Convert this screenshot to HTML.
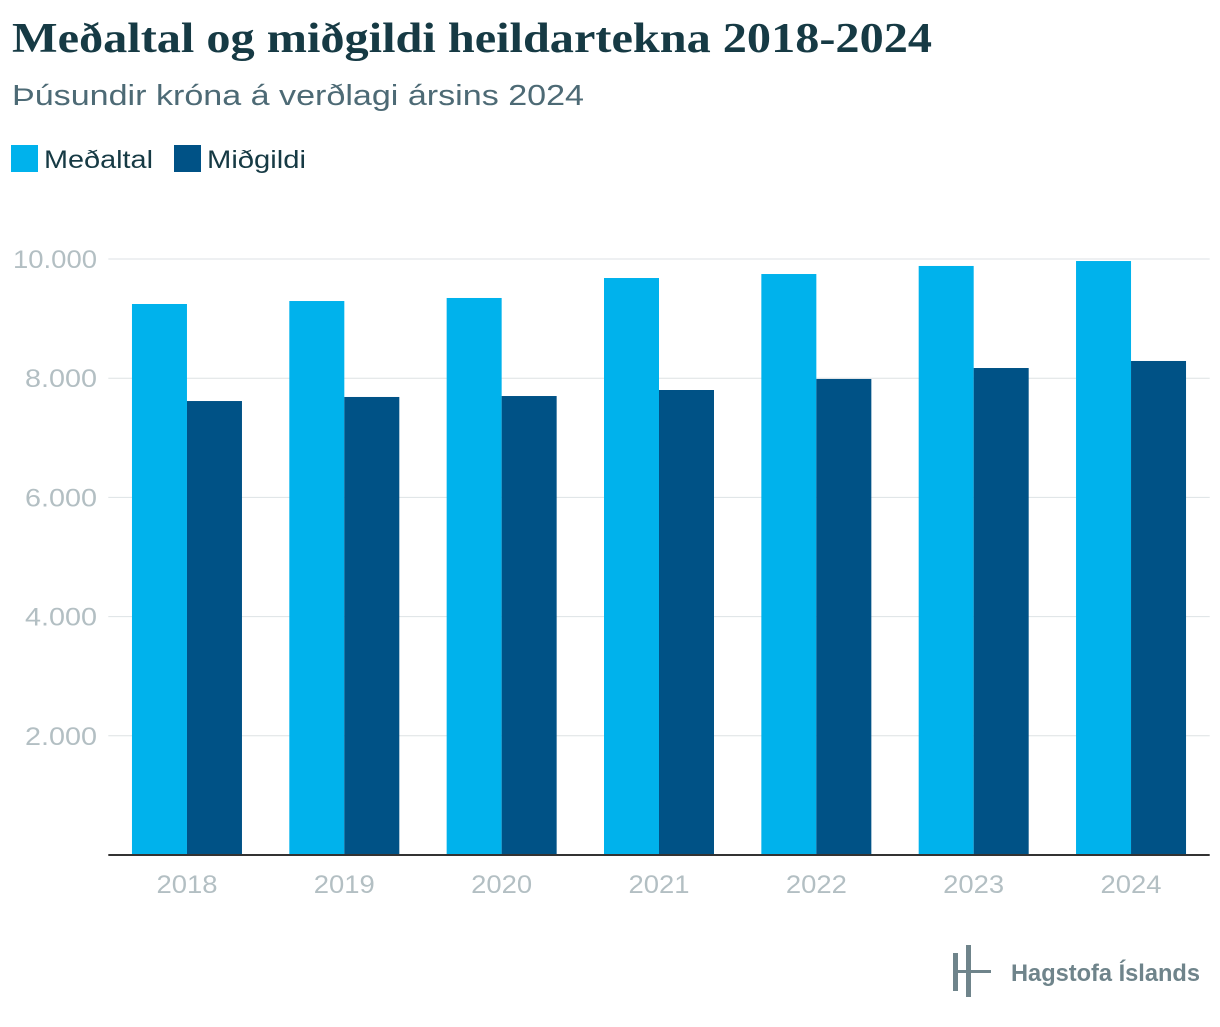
<!DOCTYPE html>
<html><head><meta charset="utf-8"><style>
body{margin:0;background:#fff;width:1220px;height:1022px;overflow:hidden;font-family:"Liberation Sans",sans-serif}
</style></head><body>
<svg width="1220" height="1022" xmlns="http://www.w3.org/2000/svg">
<text x="12" y="52" font-family="Liberation Serif,serif" font-size="42" font-weight="bold" fill="#163a44" textLength="920" lengthAdjust="spacingAndGlyphs">Meðaltal og miðgildi heildartekna 2018-2024</text>
<text x="12" y="105" font-size="29" fill="#4d6a75" textLength="572" lengthAdjust="spacingAndGlyphs">Þúsundir króna á verðlagi ársins 2024</text>
<g>
<rect x="11" y="145" width="27" height="27" fill="#00b2ec"/>
<text x="44" y="168" font-size="25" fill="#163a44" textLength="109" lengthAdjust="spacingAndGlyphs">Meðaltal</text>
<rect x="174" y="145" width="27" height="27" fill="#005286"/>
<text x="207" y="168" font-size="25" fill="#163a44" textLength="99" lengthAdjust="spacingAndGlyphs">Miðgildi</text>
</g>
<g id="grid"></g><g id="bars"></g><g id="axis"></g>
<g>
<rect x="953" y="953" width="5" height="38" fill="#6f848b"/>
<rect x="966" y="945" width="5" height="52" fill="#6f848b"/>
<rect x="953" y="970" width="38" height="3" fill="#6f848b"/>
<text x="1011" y="981" font-size="24" font-weight="bold" fill="#6f848b" textLength="189" lengthAdjust="spacingAndGlyphs">Hagstofa Íslands</text>
</g>
</svg>
<script>
const years=["2018","2019","2020","2021","2022","2023","2024"];
const medaltal=[9245,9295,9346,9681,9748,9883,9966];
const midgildi=[7617,7685,7701,7802,7987,8171,8289];
const yTicks=[2000,4000,6000,8000,10000];
const NS="http://www.w3.org/2000/svg";
const x0=108.3,x1=1209.7,y0=855,yTop=259,maxV=10000;
const band=(x1-x0)/years.length;
const y=v=>y0-(y0-yTop)*v/maxV;
function mk(t,a,p){const e=document.createElementNS(NS,t);for(const k in a)e.setAttribute(k,a[k]);p.appendChild(e);return e;}
const grid=document.getElementById('grid'),bars=document.getElementById('bars'),axis=document.getElementById('axis');
yTicks.forEach(t=>{
const l=mk('line',{x1:x0,x2:x1,y1:y(t),y2:y(t),stroke:'#dde2e4','stroke-width':1},grid);


const lbl=t.toLocaleString('de-DE');
const tx=mk('text',{x:97,y:y(t)+9,'text-anchor':'end','font-size':25,fill:'#b3bfc3',textLength:lbl.length>5?84:72,lengthAdjust:'spacingAndGlyphs'},grid);
tx.textContent=lbl;


});
years.forEach((yr,i)=>{
const c=x0+band*(i+0.5);
const a=mk('rect',{x:c-55,y:y(medaltal[i]),width:55,height:y0-y(medaltal[i]),fill:'#00b2ec'},bars);


const b=mk('rect',{x:c,y:y(midgildi[i]),width:55,height:y0-y(midgildi[i]),fill:'#005286'},bars);


const tx=mk('text',{x:c,y:893,'text-anchor':'middle','font-size':25,fill:'#b3bfc3',textLength:61,lengthAdjust:'spacingAndGlyphs'},axis);
tx.textContent=yr;


});
const ax=mk('line',{x1:x0,x2:x1,y1:y0,y2:y0,stroke:'#333','stroke-width':2},axis);


</script>
</body></html>
